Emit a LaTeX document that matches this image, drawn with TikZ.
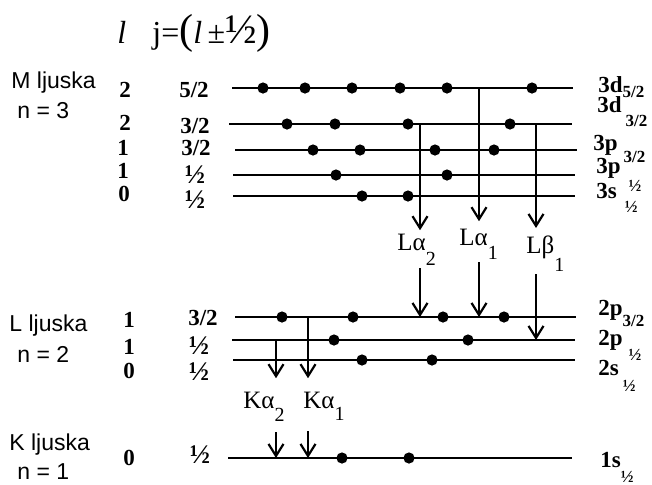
\documentclass[tikz,border=0pt]{standalone}
\usepackage{fontspec}
\setmainfont{Liberation Serif}
\newfontfamily\arialfont{Liberation Sans}
\usetikzlibrary{arrows.meta}
\tikzset{
    level/.style={line width=1.15pt},
    electron/.style={fill=black},
    xray/.style={line width=1.1pt, -{Straight Barb[length=6pt, width=7.5pt]}},
    shell/.style={anchor=base west, inner sep=0pt, font=\arialfont\fontsize{11.5}{13}\selectfont},
    qnum/.style={anchor=base, inner sep=0pt, font=\bfseries\fontsize{11.5}{13}\selectfont},
    orbital/.style={anchor=base west, inner sep=0pt, font=\bfseries\fontsize{11.5}{13}\selectfont},
    linelabel/.style={anchor=base west, inner sep=1.5pt, font=\fontsize{12.5}{14}\selectfont}
}
\newcommand{\jhalf}{{\fontsize{13.5}{13.5}\selectfont ½}}
\newcommand{\lowsub}[2]{\raisebox{-#1}{\fontsize{8.5}{9}\selectfont #2}}
\newcommand{\linesub}[2]{\raisebox{-#1}{\fontsize{10}{10}\selectfont #2}}
\newcommand{\hdrbig}[1]{{\fontsize{21}{21}\selectfont #1}}

\begin{document}
\begin{tikzpicture}[x=0.5pt, y=-0.5pt]
        \useasboundingbox (0,0) rectangle (652,484);

        % Header
        \node (lhead) [anchor=base west, inner sep=0pt, font=\fontsize{16}{18}\selectfont] at (117,43) {\textit{l}};
        \node (jhead) [anchor=base west, inner sep=0pt, font=\fontsize{16}{18}\selectfont] at (152,43) {j=\hdrbig{(}\textit{l}\,±\hdrbig{½}\hdrbig{)}};

        % Shells
        \node (mshell) [shell] at (11,88) {M ljuska};
        \node (mn) [shell] at (17,118) {n = 3};
        \node (lshell) [shell] at (9,331) {L ljuska};
        \node (ln) [shell] at (17,362) {n = 2};
        \node (kshell) [shell] at (9,450) {K ljuska};
        \node (kn) [shell] at (17,479) {n = 1};

        % Quantum numbers l and j
        \node (l1) [qnum] at (125,97) {2};
        \node (l2) [qnum] at (125,130) {2};
        \node (l3) [qnum] at (123,155) {1};
        \node (l4) [qnum] at (123,178) {1};
        \node (l5) [qnum] at (124,201) {0};
        \node (l6) [qnum] at (129,327) {1};
        \node (l7) [qnum] at (129,354) {1};
        \node (l8) [qnum] at (129,378) {0};
        \node (l9) [qnum] at (129,465) {0};

        \node (j1) [qnum] at (194,97) {5/2};
        \node (j2) [qnum] at (195,133) {3/2};
        \node (j3) [qnum] at (196,155) {3/2};
        \node (j4) [qnum] at (195,183) {\jhalf};
        \node (j5) [qnum] at (195,208) {\jhalf};
        \node (j6) [qnum] at (203,325) {3/2};
        \node (j7) [qnum] at (199,354) {\jhalf};
        \node (j8) [qnum] at (199,380) {\jhalf};
        \node (j9) [qnum] at (200,463) {\jhalf};

        % Energy levels
        \coordinate (m1l) at (232,88);  \coordinate (m1r) at (573,88);
        \coordinate (m2l) at (229,124); \coordinate (m2r) at (572,124);
        \coordinate (m3l) at (235,150); \coordinate (m3r) at (577,150);
        \coordinate (m4l) at (233,175); \coordinate (m4r) at (575,175);
        \coordinate (m5l) at (233,196); \coordinate (m5r) at (575,196);
        \coordinate (n1l) at (235,317); \coordinate (n1r) at (576,317);
        \coordinate (n2l) at (232,340); \coordinate (n2r) at (575,340);
        \coordinate (n3l) at (233,360); \coordinate (n3r) at (575,360);
        \coordinate (k1l) at (228,458); \coordinate (k1r) at (572,458);

        \draw[level] (m1l) -- (m1r);
        \draw[level] (m2l) -- (m2r);
        \draw[level] (m3l) -- (m3r);
        \draw[level] (m4l) -- (m4r);
        \draw[level] (m5l) -- (m5r);
        \draw[level] (n1l) -- (n1r);
        \draw[level] (n2l) -- (n2r);
        \draw[level] (n3l) -- (n3r);
        \draw[level] (k1l) -- (k1r);

        % Orbital names
        \node (o1) [orbital] at (598,92) {3d\lowsub{2.5pt}{5/2}};
        \node (o2) [orbital] at (597,112) {3d\,\lowsub{7pt}{3/2}};
        \node (o3) [orbital] at (593,150) {3p\hspace{3pt}\lowsub{6pt}{3/2}};
        \node (o4) [orbital] at (596,173) {3p\hspace{4pt}\lowsub{9pt}{½}};
        \node (o5) [orbital] at (596,198) {3s\hspace{4pt}\lowsub{7pt}{½}};
        \node (o6) [orbital] at (598,315) {2p\lowsub{5.5pt}{3/2}};
        \node (o7) [orbital] at (598,345) {2p\hspace{3pt}\lowsub{7.5pt}{½}};
        \node (o8) [orbital] at (598,375) {2s\hspace{2pt}\lowsub{8pt}{½}};
        \node (o9) [orbital] at (600,467) {1s\lowsub{7.5pt}{½}};

        % Electrons
        \fill[electron] (263,88) circle (2.8pt) (305,88) circle (2.8pt) (352,88) circle (2.8pt)
                        (400,88) circle (2.8pt) (447,88) circle (2.8pt) (532,88) circle (2.8pt);
        \fill[electron] (287,124) circle (2.8pt) (335,124) circle (2.8pt) (408,124) circle (2.8pt) (510,124) circle (2.8pt);
        \fill[electron] (313,150) circle (2.8pt) (360,150) circle (2.8pt) (435,150) circle (2.8pt) (494,150) circle (2.8pt);
        \fill[electron] (336,175) circle (2.8pt) (447,175) circle (2.8pt);
        \fill[electron] (362,196) circle (2.8pt) (408,196) circle (2.8pt);
        \fill[electron] (282,317) circle (2.8pt) (353,317) circle (2.8pt) (443,317) circle (2.8pt) (504,317) circle (2.8pt);
        \fill[electron] (334,340) circle (2.8pt) (468,340) circle (2.8pt);
        \fill[electron] (362,360) circle (2.8pt) (432,360) circle (2.8pt);
        \fill[electron] (342,458) circle (2.8pt) (409,458) circle (2.8pt);

        % Transition labels
        \node (la2) [linelabel] at (394,250) {Lα\linesub{7.5pt}{2}};
        \node (la1) [linelabel] at (456,245) {Lα\linesub{7pt}{1}};
        \node (lb1) [linelabel] at (523,253) {Lβ\linesub{9pt}{1}};
        \node (ka2) [linelabel] at (240,408) {Kα\linesub{6.5pt}{2}};
        \node (ka1) [linelabel] at (300,408) {Kα\linesub{6pt}{1}};

        % Transitions
        \coordinate (la2top) at (420,124); \coordinate (la2bot) at (420,317);
        \coordinate (la1top) at (479,88);  \coordinate (la1bot) at (479,317);
        \coordinate (lb1top) at (536,124); \coordinate (lb1bot) at (536,340);
        \coordinate (ka2top) at (276,340); \coordinate (ka2bot) at (276,458);
        \coordinate (ka1top) at (308,317); \coordinate (ka1bot) at (308,458);

        \draw[xray] (la2top) -- (la2top |- la2.north);
        \draw[xray] (la2top |- la2.south) -- (la2bot);
        \draw[xray, shorten >=2pt] (la1top) -- (la1top |- la1.north);
        \draw[xray] (la1top |- la1.south) -- (la1bot);
        \draw[xray, shorten >=2pt] (lb1top) -- (lb1top |- lb1.north);
        \draw[xray] (lb1top |- lb1.south) -- (lb1bot);
        \draw[xray, shorten >=5pt] (ka2top) -- (ka2top |- ka2.north);
        \draw[xray, shorten <=4pt] (ka2top |- ka2.south) -- (ka2bot);
        \draw[xray, shorten >=5pt] (ka1top) -- (ka1top |- ka1.north);
        \draw[xray, shorten <=4pt] (ka1top |- ka1.south) -- (ka1bot);
    \end{tikzpicture}
\end{document}
